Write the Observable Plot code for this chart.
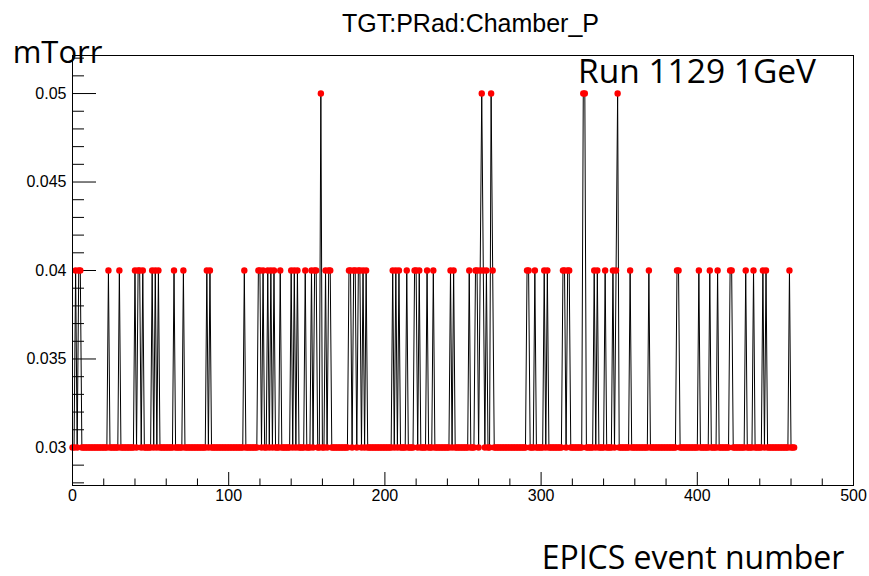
<!DOCTYPE html>
<html><head><meta charset="utf-8">
<script src="https://cdn.jsdelivr.net/npm/d3@7"></script>
<script src="https://cdn.jsdelivr.net/npm/@observablehq/plot@0.6"></script>
<style>body{margin:0;background:#fff} svg{display:block}</style>
</head><body><div id="chart"></div>
<script>
// Chamber pressure (mTorr) per EPICS event, event numbers 0..462
const pressure = [
  0.03,0.03,0.04,0.03,0.04,0.04,0.03,0.03,0.03,0.03,
  0.03,0.03,0.03,0.03,0.03,0.03,0.03,0.03,0.03,0.03,
  0.03,0.03,0.03,0.04,0.03,0.03,0.03,0.03,0.03,0.03,
  0.04,0.03,0.03,0.03,0.03,0.03,0.03,0.03,0.03,0.03,
  0.04,0.03,0.04,0.04,0.03,0.04,0.03,0.03,0.03,0.03,
  0.03,0.04,0.03,0.04,0.03,0.04,0.03,0.03,0.03,0.03,
  0.03,0.03,0.03,0.03,0.03,0.04,0.03,0.03,0.03,0.03,
  0.03,0.04,0.03,0.03,0.03,0.03,0.03,0.03,0.03,0.03,
  0.03,0.03,0.03,0.03,0.03,0.03,0.04,0.03,0.04,0.03,
  0.03,0.03,0.03,0.03,0.03,0.03,0.03,0.03,0.03,0.03,
  0.03,0.03,0.03,0.03,0.03,0.03,0.03,0.03,0.03,0.03,
  0.04,0.03,0.03,0.03,0.03,0.03,0.03,0.03,0.03,0.04,
  0.04,0.03,0.04,0.03,0.03,0.04,0.03,0.04,0.03,0.04,
  0.03,0.03,0.03,0.04,0.03,0.03,0.03,0.03,0.03,0.03,
  0.04,0.03,0.04,0.03,0.04,0.03,0.03,0.03,0.03,0.04,
  0.03,0.03,0.03,0.04,0.03,0.04,0.04,0.03,0.03,0.05,
  0.03,0.03,0.04,0.03,0.04,0.04,0.03,0.03,0.03,0.03,
  0.03,0.03,0.03,0.03,0.03,0.03,0.03,0.04,0.04,0.03,
  0.04,0.04,0.03,0.04,0.04,0.03,0.04,0.03,0.04,0.03,
  0.03,0.03,0.03,0.03,0.03,0.03,0.03,0.03,0.03,0.03,
  0.03,0.03,0.03,0.03,0.03,0.04,0.03,0.04,0.03,0.04,
  0.03,0.03,0.03,0.03,0.04,0.03,0.03,0.03,0.03,0.04,
  0.04,0.03,0.04,0.03,0.03,0.03,0.03,0.04,0.03,0.03,
  0.03,0.04,0.03,0.03,0.03,0.03,0.03,0.03,0.03,0.03,
  0.03,0.03,0.04,0.03,0.04,0.03,0.03,0.03,0.03,0.03,
  0.03,0.03,0.03,0.03,0.04,0.03,0.03,0.03,0.04,0.04,
  0.03,0.04,0.05,0.04,0.03,0.04,0.03,0.03,0.05,0.04,
  0.03,0.03,0.03,0.03,0.03,0.03,0.03,0.03,0.03,0.03,
  0.03,0.03,0.03,0.03,0.03,0.03,0.03,0.03,0.03,0.03,
  0.03,0.04,0.04,0.03,0.03,0.03,0.04,0.03,0.03,0.03,
  0.03,0.03,0.04,0.03,0.04,0.03,0.03,0.03,0.03,0.03,
  0.03,0.03,0.03,0.03,0.04,0.04,0.03,0.04,0.04,0.03,
  0.03,0.03,0.03,0.03,0.03,0.03,0.03,0.05,0.05,0.03,
  0.03,0.03,0.03,0.03,0.04,0.03,0.04,0.03,0.03,0.03,
  0.03,0.04,0.03,0.03,0.03,0.03,0.04,0.03,0.04,0.05,
  0.03,0.03,0.03,0.03,0.03,0.03,0.03,0.04,0.03,0.03,
  0.03,0.03,0.03,0.03,0.03,0.03,0.03,0.03,0.03,0.04,
  0.03,0.03,0.03,0.03,0.03,0.03,0.03,0.03,0.03,0.03,
  0.03,0.03,0.03,0.03,0.03,0.03,0.03,0.04,0.04,0.03,
  0.03,0.03,0.03,0.03,0.03,0.03,0.03,0.03,0.03,0.03,
  0.03,0.04,0.03,0.03,0.03,0.03,0.03,0.03,0.04,0.03,
  0.03,0.03,0.03,0.04,0.03,0.03,0.03,0.03,0.03,0.03,
  0.03,0.04,0.04,0.03,0.03,0.03,0.03,0.03,0.03,0.03,
  0.03,0.04,0.03,0.03,0.03,0.03,0.04,0.03,0.03,0.03,
  0.03,0.03,0.04,0.03,0.04,0.03,0.03,0.03,0.03,0.03,
  0.03,0.03,0.03,0.03,0.03,0.03,0.03,0.03,0.03,0.04,
  0.03,0.03,0.03
];

const xTicks = [0, 100, 200, 300, 400, 500];
const xTickLabels = ["0", "100", "200", "300", "400", "500"];
const xMinorTicks = [20,40,60,80,120,140,160,180,220,240,260,280,320,340,360,380,420,440,460,480];
const yTicks = [0.03, 0.035, 0.04, 0.045, 0.05];
const yTickLabels = ["0.03", "0.035", "0.04", "0.045", "0.05"];
const yMinorTicks = [0.028,0.029,0.031,0.032,0.033,0.034,0.036,0.037,0.038,0.039,0.041,0.042,0.043,0.044,0.046,0.047,0.048,0.049,0.051,0.052];

const title = "TGT:PRad:Chamber_P";
const yUnit = "mTorr";
const runLabel = "Run 1129 1GeV";
const xLabel = "EPICS event number";

const W = 869, H = 576, mL = 72, mR = 16, mT = 55, mB = 91;
const fW = W - mL - mR, fH = H - mT - mB;
const bigFont = "'Open Sans', sans-serif";

const chart = Plot.plot({
  width: W, height: H,
  marginLeft: mL, marginRight: mR, marginTop: mT, marginBottom: mB,
  style: {fontFamily: "'Liberation Sans', Arial, sans-serif", fontSize: "16px", background: "white", color: "black", overflow: "visible"},
  x: {domain: [0, 500], axis: null},
  y: {domain: [0.02785, 0.05215], axis: null},
  marks: [
    Plot.ruleX(xMinorTicks, {x: d => d, insetTop: fH - 6.5, stroke: "black"}),
    Plot.ruleX(xTicks, {x: d => d, insetTop: fH - 13, stroke: "black"}),
    Plot.ruleY(yMinorTicks, {y: d => d, insetRight: fW - 12, stroke: "black"}),
    Plot.ruleY(yTicks, {y: d => d, insetRight: fW - 24, stroke: "black"}),
    Plot.axisX(xTicks, {tickSize: 0, tickPadding: 4, tickFormat: d => xTickLabels[xTicks.indexOf(d)], label: null, fontSize: 16}),
    Plot.axisY(yTicks, {tickSize: 0, tickPadding: 6, tickFormat: d => yTickLabels[yTicks.indexOf(d)], label: null, fontSize: 16}),
    Plot.line(pressure, {x: (d, i) => i, y: d => d, stroke: "black", strokeWidth: 1}),
    Plot.dot(pressure, {x: (d, i) => i, y: d => d, r: 3.2, fill: "#ff0000", stroke: "none"}),
    Plot.frame({stroke: "black", strokeWidth: 1}),
    Plot.text([title], {text: d => d, frameAnchor: "top", lineAnchor: "middle", dx: 7.5, dy: -32, fontSize: 25, fill: "black"}),
    Plot.text([yUnit], {text: d => d, frameAnchor: "top-left", lineAnchor: "middle", textAnchor: "middle", dx: -15, dy: -2, fontSize: 31, fontFamily: bigFont, fill: "black"}),
    Plot.text([runLabel], {text: d => d, frameAnchor: "top-right", lineAnchor: "middle", textAnchor: "middle", dx: -156.5, dy: 17, fontSize: 33.5, fontFamily: bigFont, fill: "black"}),
    Plot.text([xLabel], {text: d => d, frameAnchor: "bottom-right", lineAnchor: "middle", textAnchor: "middle", dx: -160.5, dy: 73, fontSize: 32, fontFamily: bigFont, fill: "black"})
  ]
});
document.getElementById("chart").appendChild(chart);
</script>
</body></html>
